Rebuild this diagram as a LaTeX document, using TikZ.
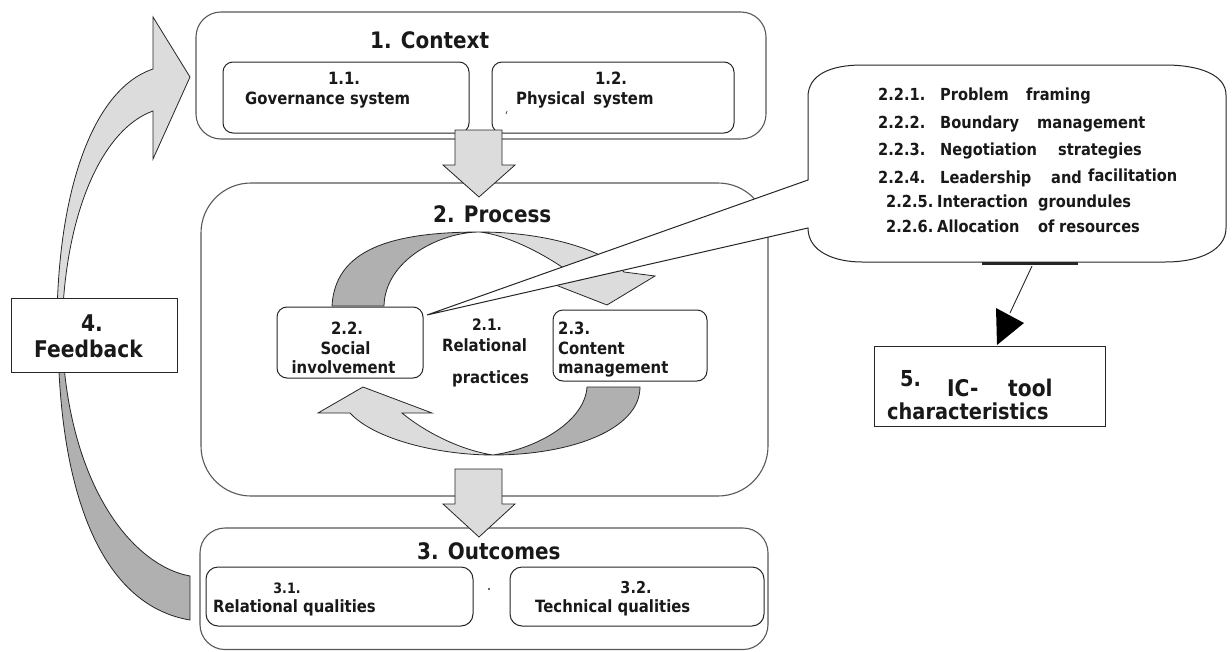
\documentclass[tikz,border=0pt]{standalone}
\usepackage{fontspec}
\setmainfont{DejaVu Sans}[FakeStretch=0.88]
\definecolor{lightg}{HTML}{DCDCDC}
\definecolor{darkg}{HTML}{B0B0B0}
\tikzset{
  obox/.style={draw=black!65, line width=1.1pt, fill=white, inner sep=0pt, outer sep=0pt},
  ibox/.style={draw=black!85, line width=1pt, fill=white, inner sep=0pt, outer sep=0pt, rounded corners=10pt},
  sbox/.style={draw=black!85, line width=1pt, fill=white, inner sep=0pt, outer sep=0pt},
  blk/.style={draw=black!85, line width=0.8pt, line join=miter},
  lfill/.style={blk, fill=lightg},
  dfill/.style={blk, fill=darkg},
  ttl/.style={font=\fontsize{22.7}{27}\selectfont\bfseries, text=black!90, inner sep=0pt},
  lbl/.style={font=\fontsize{16.9}{20}\selectfont\bfseries, text=black!90, inner sep=0pt},
  cl/.style={font=\fontsize{16.6}{20}\selectfont\bfseries, text=black!90, inner sep=0pt, anchor=base west},
  bigl/.style={font=\fontsize{23}{27}\selectfont\bfseries, text=black!90, inner sep=0pt},
}
\newcommand\cw[4]{\node[cl] (#1) at (#2,#3) {#4};}
\begin{document}
\begin{tikzpicture}[x=1pt,y=-1pt]
\useasboundingbox (0,0) rectangle (1232,651);
\fill[white] (0,0) rectangle (1232,651);

% feedback curved arrow
\path[lfill] (57,340) .. controls (55,200) and (90,90) .. (153,69) -- (153,17) -- (190,77) -- (153,159) -- (153,111) .. controls (100,130) and (62,220) .. (62,340) -- cycle;
\path[dfill] (58,330) .. controls (58,490) and (100,605) .. (190,620) -- (190,576) .. controls (130,565) and (65,480) .. (62,330) -- cycle;

% context
\node[obox, rounded corners=25pt, minimum width=570pt, minimum height=127pt] (ctx) at (481,75.5) {};
\node[ibox, minimum width=246pt, minimum height=71pt] (b11) at (346,97.5) {};
\node[ibox, minimum width=242pt, minimum height=71pt] (b12) at (613,97.5) {};
\draw[black!70, line width=0.8pt] (507,111) -- (506,114);

% process
\node[obox, rounded corners=50pt, minimum width=567pt, minimum height=313pt] (proc) at (484.5,339.5) {};

% outcomes
\node[obox, rounded corners=25pt, minimum width=568pt, minimum height=121.5pt] (outc) at (484,588.75) {};
\node[ibox, rounded corners=12pt, minimum width=267pt, minimum height=59pt] (b31) at (339.5,596.5) {};
\node[ibox, rounded corners=12pt, minimum width=254pt, minimum height=59pt] (b32) at (637,596.5) {};
\fill[black!80] (489,589) circle (1.2);

% block arrows
\path[lfill] (455,130) -- (502,130) -- (502,165) -- (515,165) -- (479,197) -- (443,165) -- (455,165) -- cycle;
\path[lfill] (455,469) -- (502,469) -- (502,504) -- (515,504) -- (479,537) -- (443,504) -- (455,504) -- cycle;

% cycle arrows
\path[dfill] (332,306) .. controls (335,250) and (390,232) .. (480,232) .. controls (440,232) and (385,260) .. (384,306) -- cycle;
\path[lfill] (480,232) .. controls (545,232) and (605,250) .. (624,272) -- (655,276) -- (607,305) -- (548,282) -- (580,280) .. controls (552,258) and (512,236) .. (480,232) -- cycle;
\path[lfill] (493,455) .. controls (440,455) and (375,440) .. (350,413) -- (318,413) -- (363,387) -- (432,413) -- (402,413) .. controls (425,432) and (460,450) .. (493,455) -- cycle;
\path[dfill] (493,455) .. controls (570,455) and (640,430) .. (640,387) -- (587,387) .. controls (585,420) and (540,448) .. (493,455) -- cycle;

% callout
\path[draw=black!85, line width=1pt, fill=white, line join=miter] (808,180) -- (427,315) -- (808,228) .. controls (808,252) and (835,262) .. (862,262) -- (1165,262) .. controls (1200,262) and (1226,250) .. (1226,228) -- (1226,95) .. controls (1226,75) and (1200,65) .. (1165,65) -- (862,65) .. controls (830,65) and (808,75) .. (808,97) -- cycle;
\draw[black!85, line width=2.5pt] (982,263.5) -- (1078,263.5);

% inner process boxes
\node[ibox, minimum width=146pt, minimum height=71pt] (b22) at (350,342.5) {};
\node[ibox, minimum width=154pt, minimum height=71pt] (b23) at (630,345.5) {};

% side boxes
\node[sbox, minimum width=166pt, minimum height=74pt] (b4) at (94,335) {};
\node[sbox, minimum width=231pt, minimum height=80pt] (b5) at (989.5,386) {};
\coordinate (c5a) at (1032,266);
\coordinate (c5b) at (1010,313);
\draw[black!85, line width=0.9pt] (c5a) -- (c5b);
\fill[black] (996,308) -- (1024,323) -- (997,345) -- cycle;

% texts
\node[ttl, anchor=base west] (tctx) at (370,48) {1. Context};
\node[lbl, anchor=base] (t11a) at (344,84) {1.1.};
\node[lbl, anchor=base west] (t11b) at (245,104) {Governance system};
\node[lbl, anchor=base] (t12a) at (611,84) {1.2.};
\node[lbl, anchor=base west] (t12b) at (516,104) {Physical\hspace{3pt} system};

\node[ttl, anchor=base west] (tproc) at (433,222) {2. Process};
\node[lbl, anchor=base] (t22a) at (347,334) {2.2.};
\node[lbl, anchor=base] (t22b) at (345.5,354) {Social};
\node[lbl, anchor=base] (t22c) at (343.5,373) {involvement};
\node[lbl, anchor=base, font=\fontsize{15.8}{19}\selectfont\bfseries] (t21a) at (487,330) {2.1.};
\node[lbl, anchor=base] (t21b) at (484.5,351) {Relational};
\node[lbl, anchor=base] (t21c) at (490.5,383) {practices};
\node[lbl, anchor=base west] (t23a) at (558,334) {2.3.};
\node[lbl, anchor=base west] (t23b) at (558,354) {Content};
\node[lbl, anchor=base west] (t23c) at (558,373) {management};

\node[ttl, anchor=base west] (toutc) at (417,559) {3. Outcomes};
\node[lbl, anchor=base, font=\fontsize{14.3}{17}\selectfont\bfseries] (t31a) at (287,593) {3.1.};
\node[lbl, anchor=base west] (t31b) at (213,612) {Relational qualities};
\node[lbl, anchor=base, font=\fontsize{16.4}{19}\selectfont\bfseries] (t32a) at (636,593) {3.2.};
\node[lbl, anchor=base west] (t32b) at (535,612) {Technical qualities};

\node[bigl, anchor=base] (t4a) at (92,331) {4.};
\node[bigl, anchor=base west] (t4b) at (34,357) {Feedback};

\node[bigl, anchor=base west, font=\fontsize{22}{26}\selectfont\bfseries] (t5a) at (900,386) {5.};
\node[bigl, anchor=base west] (t5b) at (947,396) {IC-};
\node[bigl, anchor=base west] (t5c) at (1008,396) {tool};
\node[bigl, anchor=base west, font=\fontsize{22}{26}\selectfont\bfseries] (t5d) at (887,419) {characteristics};

\cw{l1a}{878}{100}{2.2.1.}
\cw{l1b}{940}{100}{Problem}
\cw{l1c}{1026}{100}{framing}
\cw{l2a}{878}{128}{2.2.2.}
\cw{l2b}{940}{128}{Boundary}
\cw{l2c}{1037}{128}{management}
\cw{l3a}{878}{155}{2.2.3.}
\cw{l3b}{940}{155}{Negotiation}
\cw{l3c}{1058}{155}{strategies}
\cw{l4a}{878}{183}{2.2.4.}
\cw{l4b}{940}{183}{Leadership}
\cw{l4c}{1051}{183}{and}
\cw{l4d}{1088}{181}{facilitation}
\cw{l5a}{886}{207}{2.2.5.}
\cw{l5b}{937}{207}{Interaction}
\cw{l5c}{1038}{207}{groundules}
\cw{l6a}{886}{232}{2.2.6.}
\cw{l6b}{937}{232}{Allocation}
\cw{l6c}{1038}{232}{of}
\cw{l6d}{1059}{232}{resources}
\end{tikzpicture}
\end{document}
